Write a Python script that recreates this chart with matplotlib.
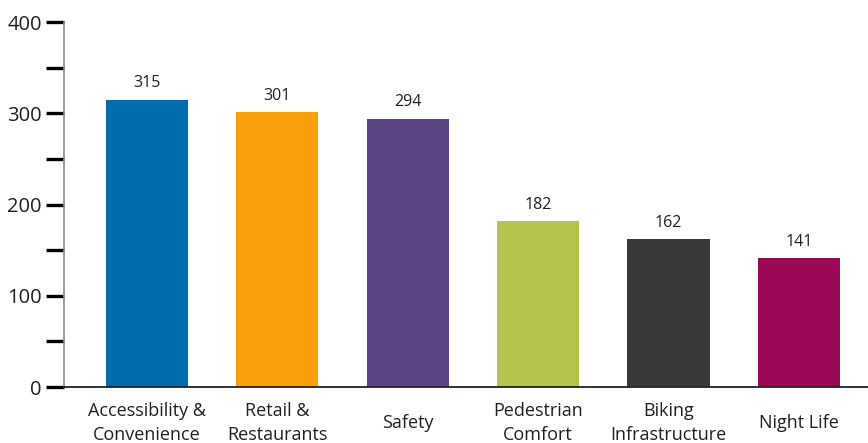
import matplotlib.pyplot as plt
from matplotlib.ticker import MultipleLocator

categories = ['Accessibility &\nConvenience', 'Retail &\nRestaurants', 'Safety',
              'Pedestrian\nComfort', 'Biking\nInfrastructure', 'Night Life']
counts = [315, 301, 294, 182, 162, 141]
bar_colors = ['#006BAD', '#F99F0C', '#5B4584', '#B5C44A', '#3A3839', '#9B0856']

plt.rcParams['font.family'] = ['Open Sans', 'DejaVu Sans']
txt = '#231F20'

fig = plt.figure(figsize=(8.68, 4.43), dpi=100)
ax = fig.add_axes([0.0737, 0.1264, 0.9263, 0.8239])

x = range(len(counts))
bars = ax.bar(x, counts, width=0.63, color=bar_colors)

# value labels over the bars
for b, v in zip(bars, counts):
    ax.annotate(str(v), (b.get_x() + b.get_width() / 2, v), xytext=(0, 6),
                textcoords='offset points', ha='center', va='bottom',
                fontsize=11.5, color=txt)

ax.set_xlim(-0.636, 5.53)
ax.set_ylim(0, 400)

ax.yaxis.set_major_locator(MultipleLocator(100))
ax.yaxis.set_minor_locator(MultipleLocator(50))
ax.tick_params(axis='y', which='both', length=13, width=2.4, color='black',
               direction='out', pad=3)
ax.tick_params(axis='y', which='major', labelsize=14.5, labelcolor=txt)
# no tick mark at zero, label sits a bit higher
zero = ax.yaxis.get_major_ticks()[0]
zero.tick1line.set_visible(False)
zero.label1.set_va('bottom')

ax.set_xticks(list(x))
ax.set_xticklabels(categories, fontsize=13, color=txt, linespacing=1.45)
ax.tick_params(axis='x', length=0, pad=26)
for lbl in ax.get_xticklabels():
    lbl.set_va('center')

for s in ['top', 'right']:
    ax.spines[s].set_visible(False)
ax.spines['left'].set_color('#8C8C8C')
ax.spines['left'].set_linewidth(1.2)
ax.spines['bottom'].set_color('#222222')
ax.spines['bottom'].set_linewidth(1.3)

fig.savefig('out.png', dpi=100)
